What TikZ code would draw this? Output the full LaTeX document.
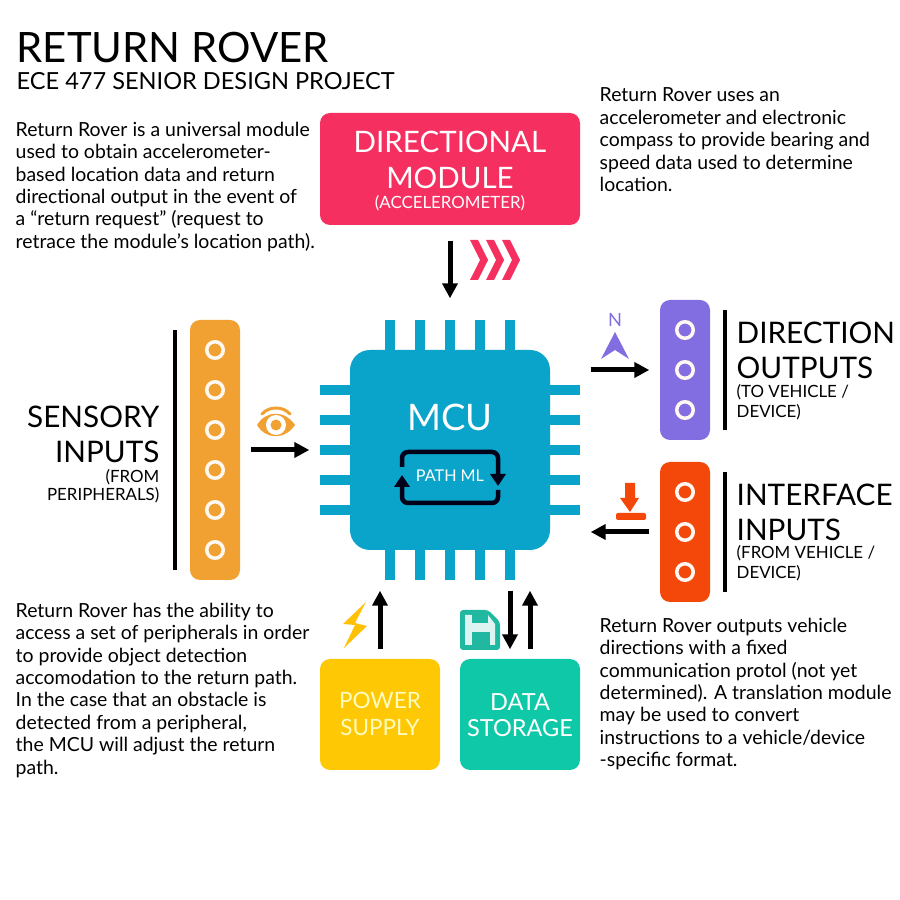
\documentclass[tikz,border=0pt]{standalone}
\usepackage{fontspec}
\setmainfont{Lato}
\usepackage{xcolor}
\usetikzlibrary{arrows.meta, positioning}
\definecolor{modpink}{RGB}{245, 48, 96}
\definecolor{mcublue}{RGB}{10, 163, 201}
\definecolor{sensorange}{RGB}{241, 160, 50}
\definecolor{dirpurple}{RGB}{130, 110, 225}
\definecolor{ifred}{RGB}{243, 72, 10}
\definecolor{powyellow}{RGB}{255, 200, 5}
\definecolor{datagreen}{RGB}{15, 200, 168}
\definecolor{floppygreen}{RGB}{32, 184, 160}

\begin{document}
\begin{tikzpicture}[
    box/.style={rectangle, rounded corners=0.1cm, minimum width=#1, minimum height=1.11cm,
                inner sep=0pt, align=center},
    strip/.style={rectangle, rounded corners=0.1cm, minimum width=0.5cm, inner sep=0pt},
    ring/.style={circle, draw=white!95!orange, line width=0.035cm, minimum size=0.165cm, inner sep=0pt},
    pin/.style={fill=mcublue, minimum width=#1, inner sep=0pt},
    bar/.style={line width=0.035cm},
    arr/.style={-{Triangle[length=0.15cm,width=0.15cm]}, line width=0.05cm},
    loopline/.style={line width=0.045cm, rounded corners=0.06cm, black!90!blue, -{Triangle[length=0.12cm,width=0.15cm]}},
    para/.style={anchor=north west, inner sep=0pt, align=left, font=\fontsize{5.53}{6.4}\selectfont},
    big/.style={inner sep=0pt, font=\fontsize{8.45}{9}\selectfont},
    small/.style={font=\fontsize{4.8}{5.2}\selectfont}
]
\useasboundingbox (0,0) rectangle (9,9);

% title
\node[anchor=base west, inner sep=0pt, font=\fontsize{11.9}{13}\selectfont] (title) at (0.16,8.37) {RETURN ROVER};
\node[anchor=base west, inner sep=0pt, font=\fontsize{6.7}{8}\selectfont] (subtitle) at (0.16,8.10) {ECE 477 SENIOR DESIGN PROJECT};

% text blocks
\node[para] (introtext) at (0.15,7.79) {Return Rover is a universal module\\used to obtain accelerometer-\\based location data and return\\directional output in the event of\\a ``return request'' (request to\\retrace the module's location path).};
\node[para] (bearingtext) at (5.99,8.13) {Return Rover uses an\\accelerometer and electronic\\compass to provide bearing and\\speed data used to determine\\location.};
\node[para] (periphtext) at (0.15,2.98) {Return Rover has the ability to\\access a set of peripherals in order\\to provide object detection\\accomodation to the return path.\\In the case that an obstacle is\\detected from a peripheral,\\the MCU will adjust the return\\path.};
\node[para] (commtext) at (5.99,2.83) {Return Rover outputs vehicle\\directions with a fixed\\communication protol (not yet\\determined). A translation module\\may be used to convert\\instructions to a vehicle/device\\-specific format.};

% mcu pins
\foreach \p in {-0.6,-0.3,0,0.3,0.6} {
    \node[pin=0.1cm, minimum height=2.6cm] at (4.5+\p,4.5) {};
    \node[pin=2.6cm, minimum height=0.1cm] at (4.5,4.5+\p) {};
}
\node[rectangle, rounded corners=0.2cm, fill=mcublue, minimum size=2cm, inner sep=0pt] (mcu) at (4.5,4.5) {};
\node[text=white, font=\fontsize{10.4}{11}\selectfont] (mcutext) at (4.5,4.83) {MCU};
\node[text=white, font=\fontsize{4.6}{5}\selectfont] (pathml) at (4.5,4.24) {PATH ML};

% loop round the path model
\draw[loopline] (4.02,4.33) |- (4.98,4.48) -- (4.98,4.14);
\draw[loopline] (4.98,4.10) |- (4.02,3.97) -- (4.02,4.25);

% directional module
\node[box=2.6cm, fill=modpink, minimum height=1.12cm] (dirmod) at (4.5,7.31) {};
\node[text=white, font=\fontsize{8.4}{9}\selectfont] (dirtext1) at (4.5,7.58) {DIRECTIONAL};
\node[text=white, font=\fontsize{8.4}{9}\selectfont] (dirtext2) at (4.5,7.22) {MODULE};
\node[text=white, small] (dirtext3) at (4.5,6.97) {(ACCELEROMETER)};
\foreach \c in {4.70,4.86,5.02} {
    \fill[modpink] (\c,6.6) -- ++(0.08,0) -- ++(0.10,-0.2) -- ++(-0.10,-0.2) -- ++(-0.08,0) -- ++(0.10,0.2) -- cycle;
}

% sensory inputs
\node[strip, fill=sensorange, minimum height=2.6cm] (sensors) at (2.15,4.5) {};
\foreach \y in {3.5,3.9,4.3,4.7,5.1,5.5} {
    \node[ring] at (2.15,\y) {};
}
\draw[bar] (1.75,5.7) -- (1.75,3.3);
\node[big, anchor=base east] (senstext1) at (1.6,4.72) {SENSORY};
\node[big, anchor=base east] (senstext2) at (1.6,4.37) {INPUTS};
\node[small, anchor=base east, inner sep=0pt] (senstext3) at (1.6,4.18) {(FROM};
\node[small, anchor=base east, inner sep=0pt] (senstext4) at (1.6,3.99) {PERIPHERALS)};
% eye
\fill[sensorange] (2.57,4.75) .. controls (2.66,4.90) and (2.85,4.90) .. (2.95,4.75)
    .. controls (2.85,4.60) and (2.66,4.60) .. cycle;
\fill[white] (2.76,4.75) circle (0.1);
\fill[sensorange] (2.76,4.75) circle (0.055);
\draw[sensorange, line width=0.03cm, line cap=round] (2.62,4.86) .. controls (2.69,4.94) and (2.83,4.94) .. (2.90,4.86);

% direction outputs
\node[strip, fill=dirpurple, minimum height=1.4cm] (dirout) at (6.85,5.3) {};
\foreach \y in {4.9,5.3,5.7} {
    \node[ring] at (6.85,\y) {};
}
\draw[bar] (7.25,5.9) -- (7.25,4.7);
\node[big, anchor=base west, inner sep=0pt] (outtext1) at (7.36,5.56) {DIRECTION};
\node[big, anchor=base west, inner sep=0pt] (outtext2) at (7.36,5.21) {OUTPUTS};
\node[small, anchor=base west, inner sep=0pt] (outtext3) at (7.36,5.02) {(TO VEHICLE /};
\node[small, anchor=base west, inner sep=0pt] (outtext4) at (7.36,4.82) {DEVICE)};
\node[text=dirpurple, font=\fontsize{5.2}{6}\selectfont, inner sep=0pt] (north) at (6.15,5.80) {N};
\fill[dirpurple] (6.15,5.68) -- (6.29,5.41) -- (6.15,5.50) -- (6.01,5.41) -- cycle;

% interface inputs
\node[strip, fill=ifred, minimum height=1.4cm] (ifin) at (6.85,3.68) {};
\foreach \y in {3.28,3.68,4.08} {
    \node[ring] at (6.85,\y) {};
}
\draw[bar] (7.25,4.28) -- (7.25,3.08);
\node[big, anchor=base west, inner sep=0pt] (iftext1) at (7.36,3.94) {INTERFACE};
\node[big, anchor=base west, inner sep=0pt] (iftext2) at (7.36,3.59) {INPUTS};
\node[small, anchor=base west, inner sep=0pt] (iftext3) at (7.36,3.41) {(FROM VEHICLE /};
\node[small, anchor=base west, inner sep=0pt] (iftext4) at (7.36,3.21) {DEVICE)};
\fill[ifred] (6.25,4.17) -- (6.35,4.17) -- (6.35,4.02) -- (6.39,4.02) -- (6.30,3.88) -- (6.20,4.02) -- (6.25,4.02) -- cycle;
\fill[ifred, rounded corners=0.02cm] (6.16,3.87) rectangle (6.46,3.80);

% power supply and data storage
\node[box=1.2cm, fill=powyellow] (power) at (3.8,1.855) {};
\node[text=white!75!yellow, font=\fontsize{6.4}{7}\selectfont] (powtext1) at (3.8,2.0) {POWER};
\node[text=white!75!yellow, font=\fontsize{6.4}{7}\selectfont] (powtext2) at (3.8,1.73) {SUPPLY};
\node[box=1.2cm, fill=datagreen] (data) at (5.2,1.855) {};
\node[text=white, font=\fontsize{6.7}{7}\selectfont] (datatext1) at (5.2,1.98) {DATA};
\node[text=white, font=\fontsize{6.7}{7}\selectfont] (datatext2) at (5.2,1.72) {STORAGE};
\fill[powyellow!90!orange] (3.66,2.98) -- (3.43,2.76) -- (3.55,2.75) -- (3.44,2.52) -- (3.67,2.74) -- (3.55,2.77) -- cycle;
\fill[floppygreen, rounded corners=0.03cm] (4.6,2.9) -- (4.88,2.9) -- (5.0,2.78) -- (5.0,2.5) -- (4.6,2.5) -- cycle;
\fill[white!85!floppygreen] (4.65,2.85) -- (4.88,2.85) -- (4.95,2.76) -- (4.95,2.55) -- (4.65,2.55) -- cycle;
\fill[floppygreen] (4.72,2.86) rectangle (4.88,2.77);
\fill[floppygreen] (4.72,2.68) rectangle (4.90,2.5);

% connectors
\draw[arr, shorten <=0.15cm, shorten >=0.51cm] (dirmod.south) -- (mcu.north);
\draw[arr, shorten <=0.1cm, shorten >=0.4cm] (sensors.east) -- (mcu.west);
\draw[arr, shorten <=0.4cm, shorten >=0.1cm] (mcu.east |- dirout) -- (dirout.west);
\draw[arr, shorten <=0.1cm, shorten >=0.4cm] (ifin.west) -- (mcu.east |- ifin);
\draw[arr, shorten <=0.09cm, shorten >=0.4cm] (power.north) -- (power.north |- mcu.south);
\draw[arr, shorten <=0.4cm, shorten >=0.09cm] ([xshift=-0.1cm]data.north |- mcu.south) -- ([xshift=-0.1cm]data.north);
\draw[arr, shorten <=0.09cm, shorten >=0.4cm] ([xshift=0.1cm]data.north) -- ([xshift=0.1cm]data.north |- mcu.south);

\end{tikzpicture}
\end{document}
